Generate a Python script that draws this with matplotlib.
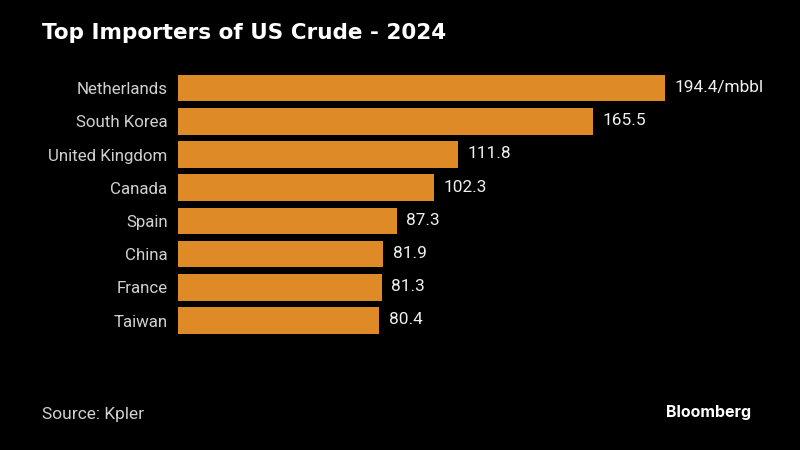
import matplotlib
matplotlib.use("Agg")
import matplotlib.pyplot as plt

countries = ["Netherlands", "South Korea", "United Kingdom", "Canada", "Spain", "China", "France", "Taiwan"]
values = [194.4, 165.5, 111.8, 102.3, 87.3, 81.9, 81.3, 80.4]
labels = ["194.4/mbbl", "165.5", "111.8", "102.3", "87.3", "81.9", "81.3", "80.4"]

BG = "#000000"
BAR = "#DE8A26"

fig = plt.figure(figsize=(8, 4.5), dpi=100, facecolor=BG)
ax = fig.add_axes([178/800, 1-338.8/450, (800-178)/800, (338.8-69.9)/450], facecolor=BG)
pos = list(range(len(countries)))
ax.barh(pos, values, height=0.8, color=BAR)
ax.set_ylim(7.55, -0.55)
ax.set_xlim(0, 622*194.4/487)
ax.set_yticks(pos)
ax.set_yticklabels(countries, family="Roboto", fontsize=12.2, color="#D0D0D0")
ax.tick_params(axis="y", length=0, pad=7.5)
ax.xaxis.set_visible(False)
for s in ax.spines.values():
    s.set_visible(False)
for p, v, t in zip(pos, values, labels):
    ax.annotate(t, (v, p), xytext=(7, 0.5), textcoords="offset points", va="center", ha="left",
                color="#F0F0F0", family="Roboto", fontsize=12.4)

fig.text(42/800, 1-33/450, "Top Importers of US Crude - 2024", color="white", family="DejaVu Sans",
         fontsize=15.5, fontweight="bold", va="center", ha="left")
fig.text(42/800, 1-414/450, "Source: Kpler", color="#D0D0D0", family="Roboto", fontsize=12.5, va="center", ha="left")
fig.text(751/800, 1-412/450, "Bloomberg", color="white", family="Inter", fontsize=11.5, fontweight="bold", va="center", ha="right")
fig.savefig("out.png", dpi=100, facecolor=BG)
